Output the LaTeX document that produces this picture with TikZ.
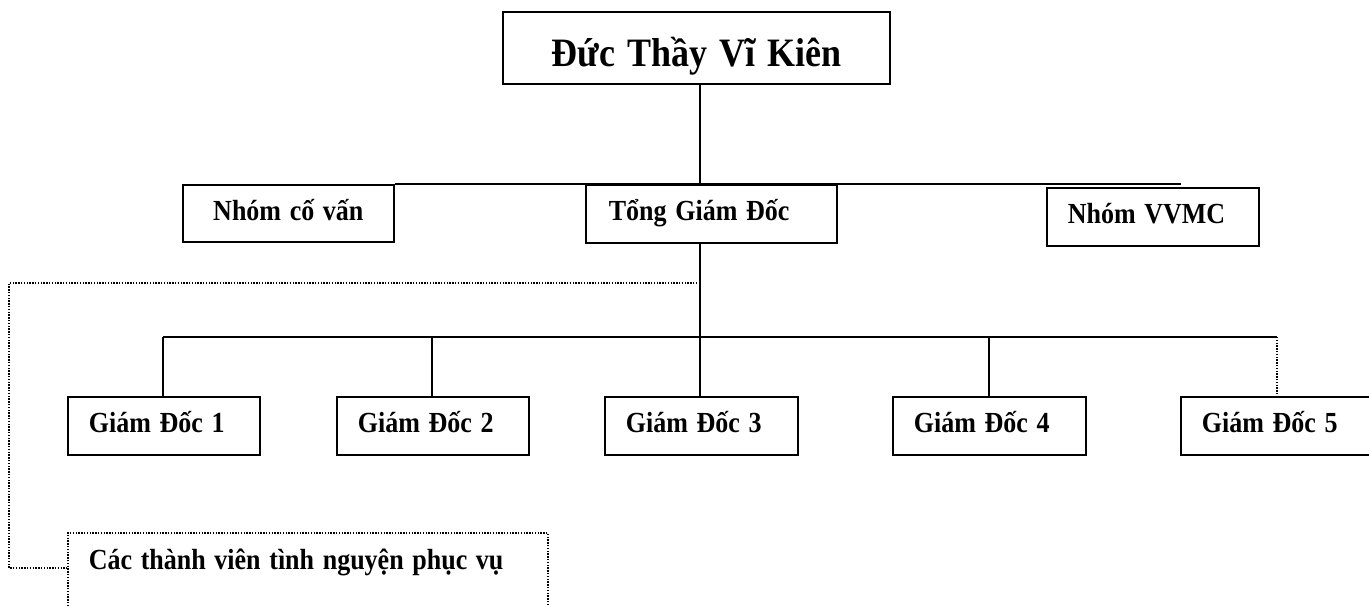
\documentclass[tikz,border=0pt]{standalone}
\usepackage{graphicx}
\usepackage{fontspec}
\setmainfont{Liberation Serif}
\newcommand{\vtx}[1]{\scalebox{1}[1.12]{#1}}
\begin{document}
\begin{tikzpicture}[x=1pt,y=-1pt]
\tikzset{
  box/.style={draw, line width=1.7pt, rectangle, anchor=north west,
    inner xsep=21pt, inner ysep=0pt, align=left,
    font=\fontsize{26}{30}\selectfont\bfseries,
    text height=19.2pt, text depth=5.2pt, minimum height=58pt},
  conn/.style={line width=1.5pt},
  dotline/.style={line width=1.6pt, dash pattern=on 1.4pt off 1.4pt},
}
\useasboundingbox (0,0) rectangle (1369,607);

% nodes
\node[box, align=center, text width=345pt, minimum height=72pt,
  font=\fontsize{36}{40}\selectfont\bfseries, text height=40pt, text depth=2pt]
  (top) at (502,11) {\vtx{Đức Thầy Vĩ Kiên}};
\node[box, align=center, text width=169pt, minimum height=57pt] (nhom) at (182,184) {\vtx{Nhóm cố vấn}};
\node[box, inner xsep=23pt, text width=205pt] (tong) at (585,184) {\vtx{Tổng Giám Đốc}};
\node[box, text width=170pt] (vvmc) at (1046,187) {\vtx{Nhóm VVMC}};

\node[box, text width=150pt] (gd1) at (67,396) {\vtx{Giám Đốc 1}};
\node[box, text width=150pt] (gd2) at (336,396) {\vtx{Giám Đốc 2}};
\node[box, text width=151pt] (gd3) at (604,396) {\vtx{Giám Đốc 3}};
\node[box, text width=151pt] (gd4) at (892,396) {\vtx{Giám Đốc 4}};
\node[box, text width=152pt] (gd5) at (1180,396) {\vtx{Giám Đốc 5}};

\node[box, dotline, text width=438pt, inner ysep=17.8pt, text depth=50pt, minimum height=0pt]
  (vol) at (67,532) {\vtx{Các thành viên tình nguyện phục vụ}};

% coordinates
\coordinate (trunk) at (700,300);
\coordinate (vend) at (1181,185);
\coordinate (d1) at (163,337);
\coordinate (d2) at (432,337);
\coordinate (d3) at (700,337);
\coordinate (d4) at (989,337);
\coordinate (d5) at (1277,337);
\coordinate (c1) at (700,283);
\coordinate (c2) at (9,568);

% connectors
\draw[conn] (top.south -| trunk) -- (tong.north -| trunk);
\draw[conn] (nhom.north east) -- (nhom.north east -| vend);
\draw[conn] (tong.south -| trunk) -- (d3);
\draw[conn] (d1) -- (d5);
\draw[conn] (d1) -- (d1 |- gd1.north);
\draw[conn] (d2) -- (d2 |- gd2.north);
\draw[conn] (d3) -- (d3 |- gd3.north);
\draw[conn] (d4) -- (d4 |- gd4.north);
\draw[dotline] (d5) -- (d5 |- gd5.north);
\draw[dotline] (c1) -| (c2) -- (c2 -| vol.west);
\end{tikzpicture}
\end{document}
